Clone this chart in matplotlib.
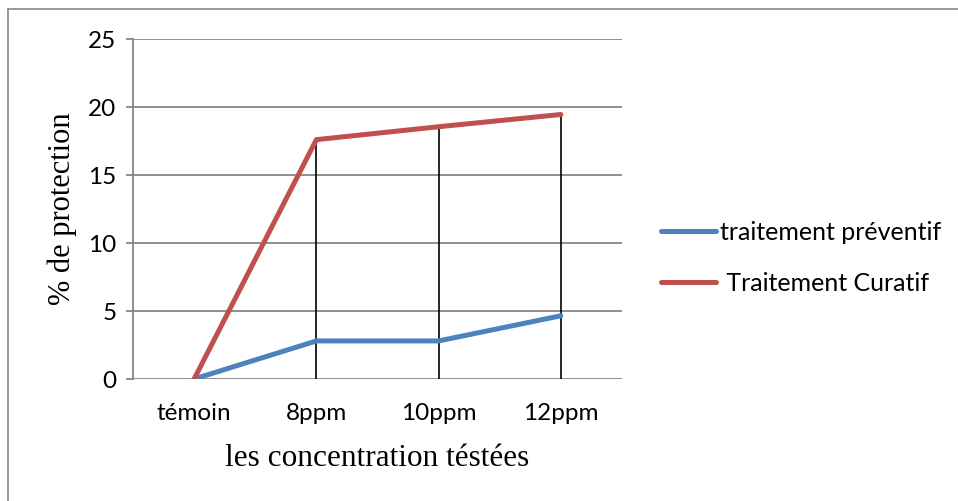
import numpy as np
import matplotlib
matplotlib.use('Agg')
import matplotlib.pyplot as plt
from matplotlib.lines import Line2D

categories = ['témoin', '8ppm', '10ppm', '12ppm']
preventif = [0, 2.8, 2.8, 4.65]
curatif = [0, 17.6, 18.55, 19.45]
y_ticks = [0, 5, 10, 15, 20, 25]

grey = '#868686'
blue = '#4F81BD'
red = '#C0504D'

fig = plt.figure(figsize=(9.58, 5.01), dpi=100)
ax = fig.add_axes([133 / 958, 1 - 379 / 501, 489 / 958, 340 / 501])

x = np.arange(len(categories))

# hi-lo lines between the two series
ax.vlines(x, preventif, curatif, color='black', lw=1.2, zorder=2)
ax.vlines(x, 0, preventif, color='black', lw=1.2, zorder=2)

ax.plot(x, preventif, color=blue, lw=3.6, solid_capstyle='round', zorder=3,
        label='traitement préventif')
ax.plot(x, curatif, color=red, lw=3.6, solid_capstyle='round', zorder=3,
        label=' Traitement Curatif')

ax.set_xlim(-0.5, len(categories) - 0.5)
ax.set_ylim(0, 25)
ax.set_yticks(y_ticks)
ax.set_xticks(x)
ax.set_xticklabels(categories)
ax.yaxis.grid(True, color=grey, lw=1.3)
ax.set_axisbelow(True)

for s in ['top', 'right', 'bottom']:
    ax.spines[s].set_visible(False)
ax.spines['left'].set_color(grey)
ax.spines['left'].set_linewidth(1.3)
ax.tick_params(axis='y', length=5, width=1.3, color=grey, pad=7,
               labelsize=17.5)
ax.tick_params(axis='x', length=0, pad=17, labelsize=17.5)
for lab in ax.get_xticklabels() + ax.get_yticklabels():
    lab.set_fontfamily('Lato')

ax.set_xlabel('les concentration téstées', fontfamily='Liberation Serif',
              fontsize=22.5, labelpad=15)
ax.set_ylabel('% de protection', fontfamily='Liberation Serif',
              fontsize=22, labelpad=8)

leg = ax.legend(loc='center left', bbox_to_anchor=(1.08, 0.356),
                frameon=False, borderpad=0, borderaxespad=0,
                handlelength=2.2, handletextpad=0.15, labelspacing=1.1,
                prop={'family': 'Lato', 'size': 18})

# outer chart border (only top and left visible)
fig.add_artist(Line2D([8 / 958, 1], [1 - 9 / 501, 1 - 9 / 501],
                      transform=fig.transFigure, color=grey, lw=1.2))
fig.add_artist(Line2D([8 / 958, 8 / 958], [0, 1 - 9 / 501],
                      transform=fig.transFigure, color=grey, lw=1.2))

fig.savefig('out.png', dpi=100)
